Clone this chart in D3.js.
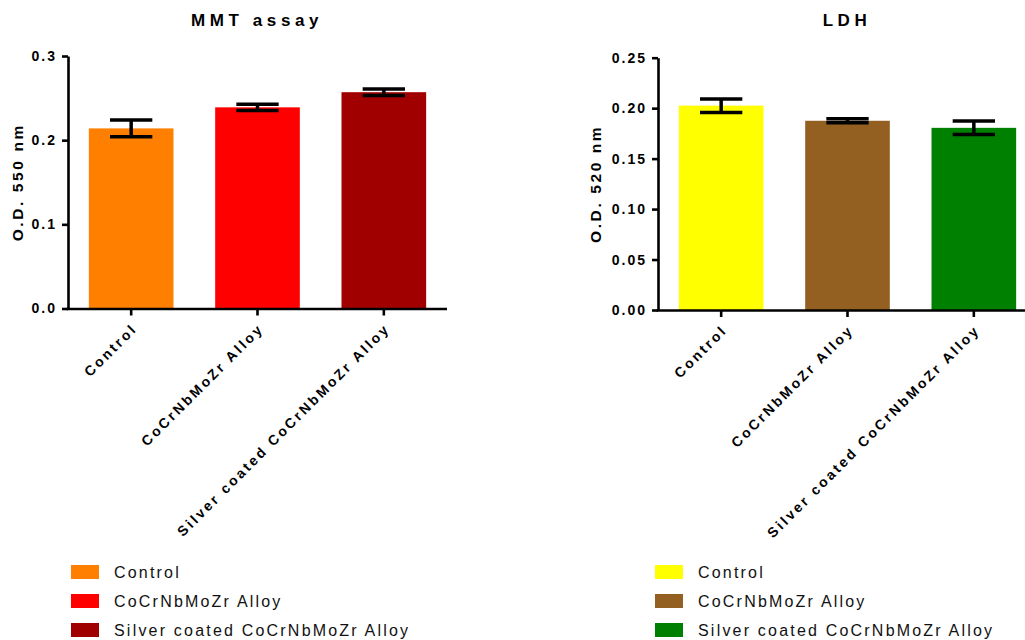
<!DOCTYPE html>
<html>
<head>
<meta charset="utf-8">
<script src="https://cdn.jsdelivr.net/npm/d3@7"></script>
<style>
  html, body { margin: 0; padding: 0; background: #fff; }
  svg { display: block; font-family: "Liberation Sans", Arial, Helvetica, sans-serif; }
</style>
</head>
<body>
<svg id="chart" width="1025" height="640"></svg>
<script>
// Sample groups shared by both assays
const groups = ["Control", "CoCrNbMoZr Alloy", "Silver coated CoCrNbMoZr Alloy"];

// MMT assay: mean optical density at 550 nm and error (±)
const mmtMeans = [0.214, 0.239, 0.257];
const mmtErrors = [0.010, 0.0038, 0.0038];
const mmtTicks = [0, 0.1, 0.2, 0.3];
const mmtColors = ["#FF8000", "#FF0000", "#A00000"];

// LDH release: mean optical density at 520 nm and error (±)
const ldhMeans = [0.2025, 0.1875, 0.1805];
const ldhErrors = [0.0067, 0.002, 0.0067];
const ldhTicks = [0, 0.05, 0.10, 0.15, 0.20, 0.25];
const ldhColors = ["#FFFF00", "#936021", "#008000"];

const svg = d3.select("#chart");

function drawPanel(opts) {
  const { title, yLabel, means, errors, ticks, colors, fmt,
          left, right, top, bottom, yMax, titleX, yLabelX, legendX } = opts;
  const g = svg.append("g");

  const x = d3.scaleBand().domain(groups).range([left, right])
    .paddingInner(0.33).paddingOuter(0.165);
  const y = d3.scaleLinear().domain([0, yMax]).range([bottom, top]);

  // bars
  g.selectAll("rect.bar").data(groups).join("rect")
    .attr("class", "bar")
    .attr("x", d => x(d))
    .attr("width", x.bandwidth())
    .attr("y", (d, i) => y(means[i]))
    .attr("height", (d, i) => bottom - y(means[i]))
    .attr("fill", (d, i) => colors[i]);

  // error bars (mean ± error) with caps
  const capW = x.bandwidth() * 0.5;
  const cx = d => x(d) + x.bandwidth() / 2;
  const eb = g.selectAll("g.err").data(groups).join("g").attr("class", "err")
    .attr("stroke", "#000").attr("stroke-width", 3.5);
  eb.append("line")
    .attr("x1", cx).attr("x2", cx)
    .attr("y1", (d, i) => y(means[i] + errors[i])).attr("y2", (d, i) => y(means[i] - errors[i]));
  eb.append("line")
    .attr("x1", d => cx(d) - capW / 2).attr("x2", d => cx(d) + capW / 2)
    .attr("y1", (d, i) => y(means[i] + errors[i])).attr("y2", (d, i) => y(means[i] + errors[i]));
  eb.append("line")
    .attr("x1", d => cx(d) - capW / 2).attr("x2", d => cx(d) + capW / 2)
    .attr("y1", (d, i) => y(means[i] - errors[i])).attr("y2", (d, i) => y(means[i] - errors[i]));

  // y axis
  const ya = g.append("g").attr("transform", `translate(${left},0)`)
    .call(d3.axisLeft(y).tickValues(ticks).tickFormat(d3.format(fmt)).tickSize(6).tickSizeOuter(0));
  ya.select(".domain").attr("stroke-width", 2.6);
  ya.selectAll(".tick line").attr("stroke-width", 2.6);
  ya.selectAll(".tick text")
    .attr("font-size", 14).attr("font-weight", "bold").attr("letter-spacing", 2)
    .attr("x", -11).attr("fill", "#000");

  // x axis
  const xa = g.append("g").attr("transform", `translate(0,${bottom})`)
    .call(d3.axisBottom(x).tickSize(7).tickSizeOuter(0));
  xa.select(".domain").attr("stroke-width", 2.6).attr("d", `M${left - 1.3},0.5H${right}`);
  xa.selectAll(".tick line").attr("stroke-width", 2.6);
  xa.selectAll(".tick text")
    .attr("font-size", 14).attr("font-weight", "bold").attr("letter-spacing", 2.6)
    .attr("fill", "#000")
    .attr("text-anchor", "end")
    .attr("y", 0).attr("dy", 0)
    .attr("transform", "translate(7,21) rotate(-45)");

  // title
  g.append("text").attr("x", titleX).attr("y", 26)
    .attr("text-anchor", "middle").attr("font-size", 17).attr("font-weight", "bold")
    .attr("letter-spacing", 4.6).text(title);

  // y label
  g.append("text")
    .attr("transform", `translate(${yLabelX},${(top + bottom) / 2}) rotate(-90)`)
    .attr("text-anchor", "middle").attr("font-size", 15.5).attr("font-weight", "bold")
    .attr("letter-spacing", 2.6).text(yLabel);

  // legend
  const lg = g.selectAll("g.leg").data(groups).join("g").attr("class", "leg")
    .attr("transform", (d, i) => `translate(${legendX},${572 + i * 29})`);
  lg.append("rect").attr("x", 0).attr("y", -7).attr("width", 28).attr("height", 14)
    .attr("fill", (d, i) => colors[i]);
  lg.append("text").attr("x", 43).attr("y", 0).attr("dy", "0.36em")
    .attr("font-size", 16).attr("letter-spacing", 2.2).attr("fill", "#111").text(d => d);
}

drawPanel({
  title: "MMT assay", yLabel: "O.D. 550 nm",
  means: mmtMeans, errors: mmtErrors, ticks: mmtTicks, colors: mmtColors, fmt: ".1f",
  left: 68, right: 447, top: 56, bottom: 308.5, yMax: 0.3,
  titleX: 257, yLabelX: 22.5, legendX: 71
});

drawPanel({
  title: "LDH", yLabel: "O.D. 520 nm",
  means: ldhMeans, errors: ldhErrors, ticks: ldhTicks, colors: ldhColors, fmt: ".2f",
  left: 658, right: 1037, top: 57.7, bottom: 310, yMax: 0.25,
  titleX: 847, yLabelX: 601, legendX: 655
});
</script>
</body>
</html>
